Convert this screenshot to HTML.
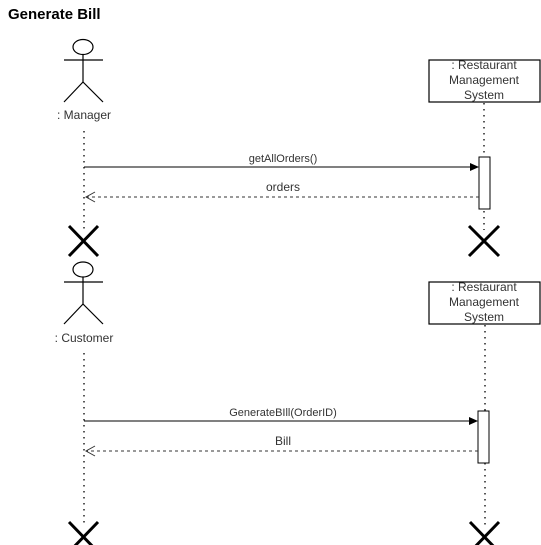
<!DOCTYPE html>
<html><head><style>
html,body{margin:0;padding:0;background:#fff;}
svg{display:block;}
text{font-family:"Liberation Sans",sans-serif;fill:#333;}
</style></head><body>
<svg width="541" height="545" viewBox="0 0 541 545" xmlns="http://www.w3.org/2000/svg">
<text x="8" y="19" font-size="15" font-weight="bold" style="fill:#000">Generate Bill</text>

<!-- Section 1 -->
<g stroke="#000" stroke-width="1.2" fill="none">
<ellipse cx="83" cy="47" rx="10" ry="7.5"/>
<line x1="83" y1="55" x2="83" y2="82"/>
<line x1="64" y1="60" x2="103" y2="60"/>
<line x1="83" y1="82" x2="64" y2="102"/>
<line x1="83" y1="82" x2="103" y2="102"/>
<rect x="429" y="60" width="111" height="42"/>
</g>
<text x="84" y="119" font-size="12" text-anchor="middle">: Manager</text>
<text x="484" y="69" font-size="12" text-anchor="middle">: Restaurant</text>
<text x="484" y="84" font-size="12" text-anchor="middle">Management</text>
<text x="484" y="99" font-size="12" text-anchor="middle">System</text>
<g stroke="#222" stroke-width="1.5" stroke-dasharray="1.5,4.5">
<line x1="84" y1="131" x2="84" y2="230"/>
<line x1="484" y1="103" x2="484" y2="230"/>
</g>
<rect x="479" y="157" width="11" height="52" fill="#fff" stroke="#000" stroke-width="1"/>
<line x1="84" y1="167" x2="471" y2="167" stroke="#000" stroke-width="1"/>
<path d="M470,163 L479,167 L470,171 Z" fill="#000"/>
<text x="283" y="162" font-size="11" text-anchor="middle">getAllOrders()</text>
<line x1="479" y1="197" x2="86" y2="197" stroke="#333" stroke-width="1" stroke-dasharray="3,3"/>
<path d="M95,192 L86,197 L95,202" fill="none" stroke="#333" stroke-width="1"/>
<text x="283" y="191" font-size="12" text-anchor="middle">orders</text>
<g stroke="#000" stroke-width="3">
<line x1="69" y1="226" x2="98" y2="256"/><line x1="98" y1="226" x2="69" y2="256"/>
<line x1="469" y1="226" x2="499" y2="256"/><line x1="499" y1="226" x2="469" y2="256"/>
</g>

<!-- Section 2 -->
<g stroke="#000" stroke-width="1.2" fill="none">
<ellipse cx="83" cy="269.5" rx="10" ry="7.5"/>
<line x1="83" y1="277" x2="83" y2="304"/>
<line x1="64" y1="282" x2="103" y2="282"/>
<line x1="83" y1="304" x2="64" y2="324"/>
<line x1="83" y1="304" x2="103" y2="324"/>
<rect x="429" y="282" width="111" height="42"/>
</g>
<text x="84" y="342" font-size="12" text-anchor="middle">: Customer</text>
<text x="484" y="291" font-size="12" text-anchor="middle">: Restaurant</text>
<text x="484" y="306" font-size="12" text-anchor="middle">Management</text>
<text x="484" y="321" font-size="12" text-anchor="middle">System</text>
<g stroke="#222" stroke-width="1.5" stroke-dasharray="1.5,4.5">
<line x1="84" y1="353" x2="84" y2="525"/>
<line x1="485" y1="325" x2="485" y2="525"/>
</g>
<rect x="478" y="411" width="11" height="52" fill="#fff" stroke="#000" stroke-width="1"/>
<line x1="84" y1="421" x2="470" y2="421" stroke="#000" stroke-width="1"/>
<path d="M469,417 L478,421 L469,425 Z" fill="#000"/>
<text x="283" y="416" font-size="11" text-anchor="middle">GenerateBIll(OrderID)</text>
<line x1="478" y1="451" x2="86" y2="451" stroke="#333" stroke-width="1" stroke-dasharray="3,3"/>
<path d="M95,446 L86,451 L95,456" fill="none" stroke="#333" stroke-width="1"/>
<text x="283" y="445" font-size="12" text-anchor="middle">Bill</text>
<g stroke="#000" stroke-width="3">
<line x1="69" y1="522" x2="98" y2="552"/><line x1="98" y1="522" x2="69" y2="552"/>
<line x1="470" y1="522" x2="499" y2="552"/><line x1="499" y1="522" x2="470" y2="552"/>
</g>
</svg>
</body></html>
